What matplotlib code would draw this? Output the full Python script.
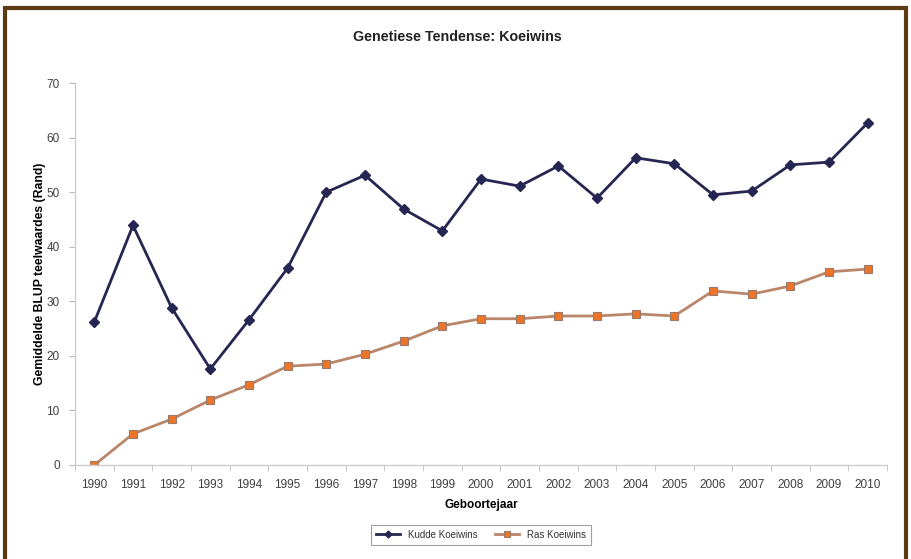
import matplotlib
matplotlib.use("Agg")
import matplotlib.pyplot as plt
from matplotlib.patches import Rectangle

plt.rcParams["font.family"] = ["Liberation Sans", "DejaVu Sans"]

years = [str(y) for y in range(1990, 2011)]
kudde = [26.2, 43.9, 28.8, 17.6, 26.6, 36.1, 50.0, 53.1, 46.9, 42.9, 52.4,
         51.1, 54.8, 48.9, 56.3, 55.2, 49.5, 50.2, 55.0, 55.5, 62.7]
ras = [0.0, 5.7, 8.4, 11.9, 14.7, 18.1, 18.5, 20.3, 22.7, 25.5, 26.8,
       26.8, 27.3, 27.3, 27.7, 27.3, 31.9, 31.3, 32.8, 35.4, 35.9]
yticks = [0, 10, 20, 30, 40, 50, 60, 70]

fig = plt.figure(figsize=(9.11, 5.59), dpi=100)
fig.patch.set_facecolor("white")
ax = fig.add_axes([0.0823, 0.1682, 0.8914, 0.6833])

x = list(range(len(years)))
ax.plot(x, kudde, color="#262652", lw=2, marker="D", ms=5,
        mfc="#262652", mec="#262652", label="Kudde Koeiwins")
ax.plot(x, ras, color="#B9866A", lw=2, marker="s", ms=6,
        mfc="#EE7428", mec="#9A7A6A", mew=0.8, label="Ras Koeiwins")

ax.set_xlim(-0.5, len(years) - 0.5)
ax.set_ylim(0, 70)
ax.set_yticks(yticks)
ax.set_xticks(x)
ax.set_xticklabels(years)
ax.set_xticks([i - 0.5 for i in range(len(years) + 1)], minor=True)
ax.tick_params(axis="x", which="major", length=0, pad=10, labelsize=8.5, labelcolor="#404040")
ax.tick_params(axis="x", which="minor", length=4, color="#bbbbbb", direction="out")
ax.tick_params(axis="y", length=4, color="#bbbbbb", labelsize=8.5, labelcolor="#404040", pad=7)

for side in ("top", "right"):
    ax.spines[side].set_visible(False)
for side in ("left", "bottom"):
    ax.spines[side].set_color("#cccccc")
    ax.spines[side].set_linewidth(1)

ax.set_xlabel("Geboortejaar", fontsize=8.5, fontweight="bold", labelpad=6)
ax.set_ylabel("Gemiddelde BLUP teelwaardes (Rand)", fontsize=8.8, fontweight="bold", labelpad=0)
fig.text(0.502, 0.934, "Genetiese Tendense: Koeiwins", ha="center", va="center",
         fontsize=10.3, fontweight="bold", color="#222222")

leg = ax.legend(loc="center", bbox_to_anchor=(0.5, -0.183), ncol=2, fontsize=7,
                frameon=True, fancybox=False, edgecolor="#888888",
                handlelength=2.5, columnspacing=1.8, markerscale=0.7,
                borderpad=0.5)
leg.get_frame().set_linewidth(0.8)
for t in leg.get_texts():
    t.set_color("#333333")

fig.patches.append(Rectangle((0.006, -0.05), 0.988, 1.036, transform=fig.transFigure,
                             fill=False, edgecolor="#5C3A12", lw=3, zorder=10))

fig.savefig("out.png", dpi=100)
